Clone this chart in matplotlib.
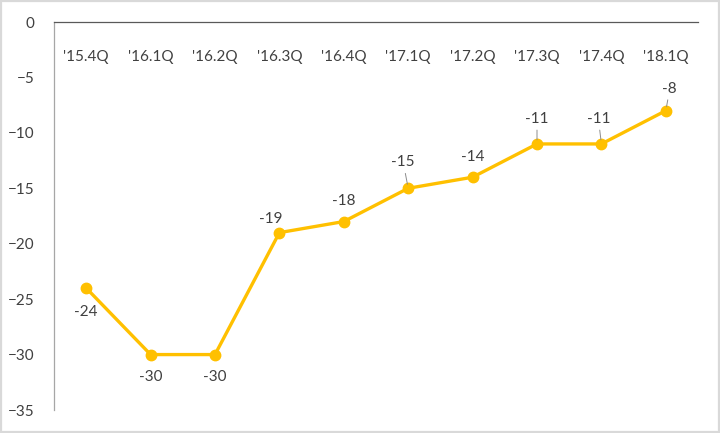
import matplotlib.pyplot as plt
from matplotlib.patches import Rectangle

quarters = ["'15.4Q", "'16.1Q", "'16.2Q", "'16.3Q", "'16.4Q",
            "'17.1Q", "'17.2Q", "'17.3Q", "'17.4Q", "'18.1Q"]
values = [-24, -30, -30, -19, -18, -15, -14, -11, -11, -8]

# label offsets in pixels (dx, dy) and whether a leader line is drawn
label_dx = [0, 0, 0, -9, 0, -5, 0, 0, -3, 4]
label_dy = [-24, -22, -22, 14, 21, 26, 20, 25, 25, 22]
leaders = [False, False, False, False, False, True, False, True, True, True]

plt.rcParams["font.family"] = ["Lato", "DejaVu Sans"]

fig = plt.figure(figsize=(7.2, 4.33), dpi=100)
ax = fig.add_axes([54 / 720, 1 - 410 / 433, 644 / 720, 388 / 433])

x = list(range(len(quarters)))
ax.plot(x, values, color="#FFC000", lw=2.4, marker="o", ms=7.5, zorder=3)

ax.set_xlim(-0.5, len(quarters) - 0.5)
ax.set_ylim(-35, 0)
ax.set_yticks(range(-35, 1, 5))
ax.set_xticks(x)
ax.set_xticklabels(quarters)

ax.tick_params(axis="x", bottom=False, labelbottom=False, top=True, labeltop=True,
               length=0, pad=-30, labelsize=11, labelcolor="#404040")
ax.tick_params(axis="y", length=0, pad=14, labelsize=11, labelcolor="#404040")

ax.spines["right"].set_visible(False)
ax.spines["bottom"].set_visible(False)
ax.spines["top"].set_color("#595959")
ax.spines["top"].set_linewidth(0.9)
ax.spines["left"].set_color("#A6A6A6")
ax.spines["left"].set_linewidth(0.9)

for i, v in enumerate(values):
    dx = label_dx[i] * 0.72
    dy = label_dy[i] * 0.72
    if leaders[i]:
        ax.annotate(str(v), (i, v), xytext=(dx, dy), textcoords="offset points",
                    ha="center", va="center", fontsize=11, color="#404040",
                    arrowprops=dict(arrowstyle="-", color="#8C8C8C", lw=0.7,
                                    shrinkA=1, shrinkB=3))
    else:
        ax.annotate(str(v), (i, v), xytext=(dx, dy), textcoords="offset points",
                    ha="center", va="center", fontsize=11, color="#404040")

fig.patches.append(Rectangle((0.0015, 0.0025), 0.997, 0.995, transform=fig.transFigure,
                             fill=False, edgecolor="#D9D9D9", lw=1.6))

fig.savefig("out.png", dpi=100)
